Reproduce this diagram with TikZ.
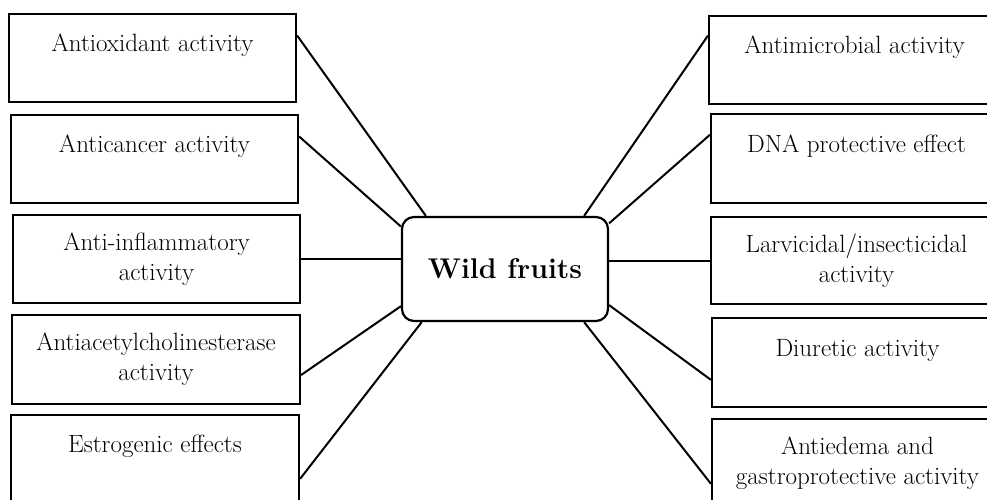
\documentclass[tikz,border=0pt]{standalone}
\usetikzlibrary{calc}
\tikzset{
  box/.style={draw, line width=2.2pt, rectangle, inner sep=0pt, align=center,
    font=\fontsize{25}{30}\selectfont},
  hub/.style={draw, line width=2.2pt, rectangle, rounded corners=12pt, inner sep=0pt,
    minimum width=206pt, minimum height=104pt, font=\fontsize{28.5}{34}\selectfont\bfseries},
  link/.style={line width=2pt}
}
\begin{document}
\begin{tikzpicture}[x=1pt,y=-1pt]
\useasboundingbox (0,0) rectangle (987,499);
\begin{scope}
\clip (0,0) rectangle (987,499);
% left boxes
\node[box, minimum width=287pt, minimum height=88pt] (l1) at (152.5,58) {Antioxidant activity\\~};
\node[box, minimum width=287pt, minimum height=88pt] (l2) at (154.5,159) {Anticancer activity\\~};
\node[box, minimum width=287pt, minimum height=88pt] (l3) at (156.5,259) {Anti-inflammatory\\activity};
\node[box, minimum width=288pt, minimum height=89pt] (l4) at (156,359.5) {Antiacetylcholinesterase\\activity};
\node[box, minimum width=288pt, minimum height=88pt] (l5) at (155,459) {Estrogenic effects\\~};
% right boxes
\node[box, minimum width=291pt, minimum height=88pt] (r1) at (854.5,60) {Antimicrobial activity\\~};
\node[box, minimum width=291pt, minimum height=89pt] (r2) at (856.5,158.5) {DNA protective effect\\~};
\node[box, minimum width=291pt, minimum height=87pt] (r3) at (856.5,260.5) {Larvicidal/insecticidal\\activity};
\node[box, minimum width=291pt, minimum height=89pt] (r4) at (857.5,362.5) {Diuretic activity\\~};
\node[box, minimum width=291pt, minimum height=88pt] (r5) at (857.5,463) {Antiedema and\\gastroprotective activity};
% hub
\node[hub] (c) at (505,269) {Wild fruits};
% connectors
\draw[link] ($(l1.north east)!0.25!(l1.south east)$) -- ($(c.north west)!0.12!(c.north east)$);
\draw[link] ($(l2.north east)!0.25!(l2.south east)$) -- ($(c.north west)!0.1!(c.south west)$);
\draw[link] (l3.east) -- (l3.east -| c.west);
\draw[link] ($(l4.north east)!0.67!(l4.south east)$) -- ($(c.north west)!0.85!(c.south west)$);
\draw[link] ($(l5.north east)!0.72!(l5.south east)$) -- ($(c.south west)!0.10!(c.south east)$);
\draw[link] ($(r1.north west)!0.23!(r1.south west)$) -- ($(c.north west)!0.88!(c.north east)$);
\draw[link] ($(r2.north west)!0.24!(r2.south west)$) -- ($(c.north east)!0.07!(c.south east)$);
\draw[link] (r3.west) -- (r3.west -| c.east);
\draw[link] ($(r4.north west)!0.69!(r4.south west)$) -- ($(c.north east)!0.84!(c.south east)$);
\draw[link] ($(r5.north west)!0.73!(r5.south west)$) -- ($(c.south west)!0.88!(c.south east)$);
\end{scope}
\end{tikzpicture}
\end{document}
